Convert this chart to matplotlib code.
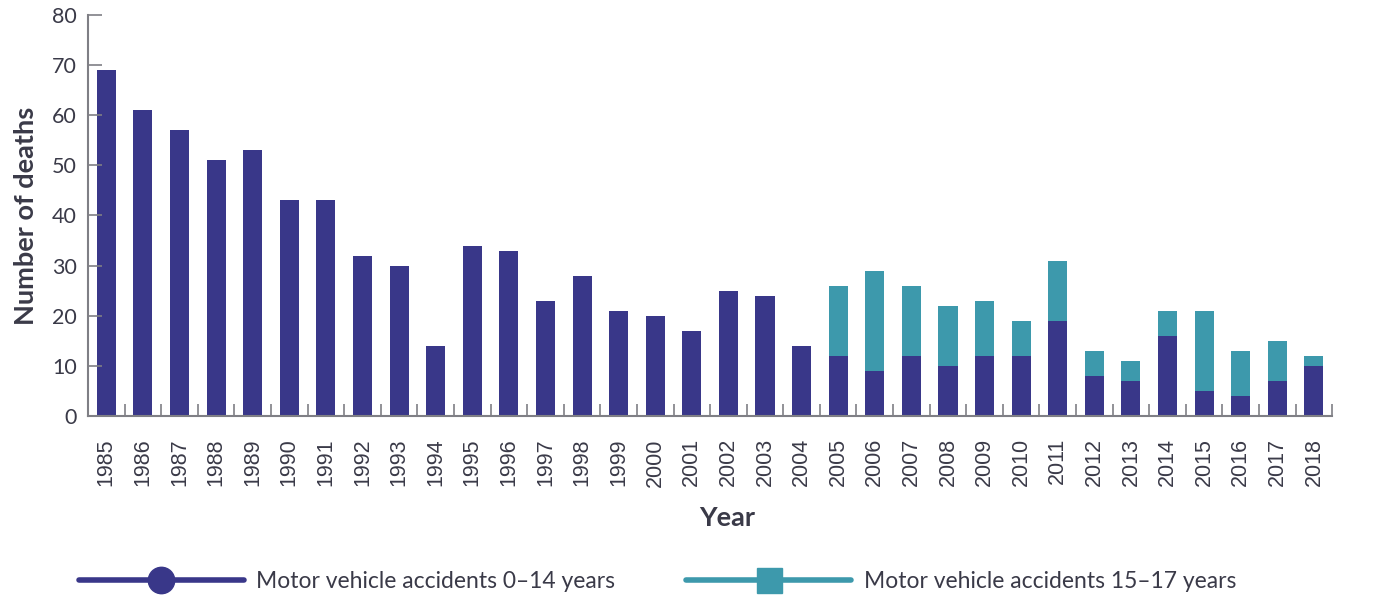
import numpy as np
import matplotlib.pyplot as plt
from matplotlib.lines import Line2D

years = list(range(1985, 2019))
young = [69, 61, 57, 51, 53, 43, 43, 32, 30, 14, 34, 33, 23, 28, 21, 20, 17, 25, 24, 14,
         12, 9, 12, 10, 12, 12, 19, 8, 7, 16, 5, 4, 7, 10]
teen = [0] * 20 + [14, 20, 14, 12, 11, 7, 12, 5, 4, 5, 16, 9, 8, 2]

dark = "#393789"
teal = "#3D99AC"
txt = "#3a3a48"
axc = "#7f7f85"

plt.rcParams['font.family'] = ['Lato', 'DejaVu Sans']

fig = plt.figure(figsize=(13.81, 5.96), dpi=100)
ax = fig.add_axes([0.0637, 0.302, 0.901, 0.673])

x = np.arange(len(years))
ax.bar(x, young, width=0.52, color=dark)
ax.bar(x, teen, width=0.52, bottom=young, color=teal)

ax.set_xlim(-0.5, len(years) - 0.5)
ax.set_ylim(0, 80)
ax.set_yticks(range(0, 81, 10))
ax.set_xticks(x)
ax.set_xticklabels(years, rotation=90, fontsize=15.5, color=txt, family=['Liberation Sans'])
ax.set_xticks(list(x[:-1] + 0.5) + [len(years) - 0.5], minor=True)
ax.tick_params(axis='x', which='major', length=0, pad=16)
ax.tick_params(axis='x', which='minor', direction='in', length=9, color=axc, width=1.2)
ax.tick_params(axis='y', direction='in', length=10, color=axc, width=1.2, labelsize=15.5, labelcolor=txt, pad=8)

for s in ['top', 'right']:
    ax.spines[s].set_visible(False)
for s in ['left', 'bottom']:
    ax.spines[s].set_color(axc)
    ax.spines[s].set_linewidth(1.5)

ax.set_ylabel("Number of deaths", fontsize=19.5, fontweight='bold', color=txt, labelpad=10)
ax.set_xlabel("Year", fontsize=19.5, fontweight='bold', color=txt)
ax.xaxis.set_label_coords(0.514, -0.225)

handles = [
    Line2D([], [], color=dark, lw=4, marker='o', markersize=19, solid_capstyle='round'),
    Line2D([], [], color=teal, lw=4, marker='s', markersize=18, solid_capstyle='round'),
]
fig.legend(handles, ["Motor vehicle accidents 0\u201314 years", "Motor vehicle accidents 15\u201317 years"],
           loc='center', bbox_to_anchor=(0.476, 0.025), ncol=2, frameon=False,
           handlelength=7.2, handletextpad=0.55, columnspacing=3.1,
           prop={'size': 16.5}, labelcolor=txt)

fig.savefig("out.png", dpi=100)
